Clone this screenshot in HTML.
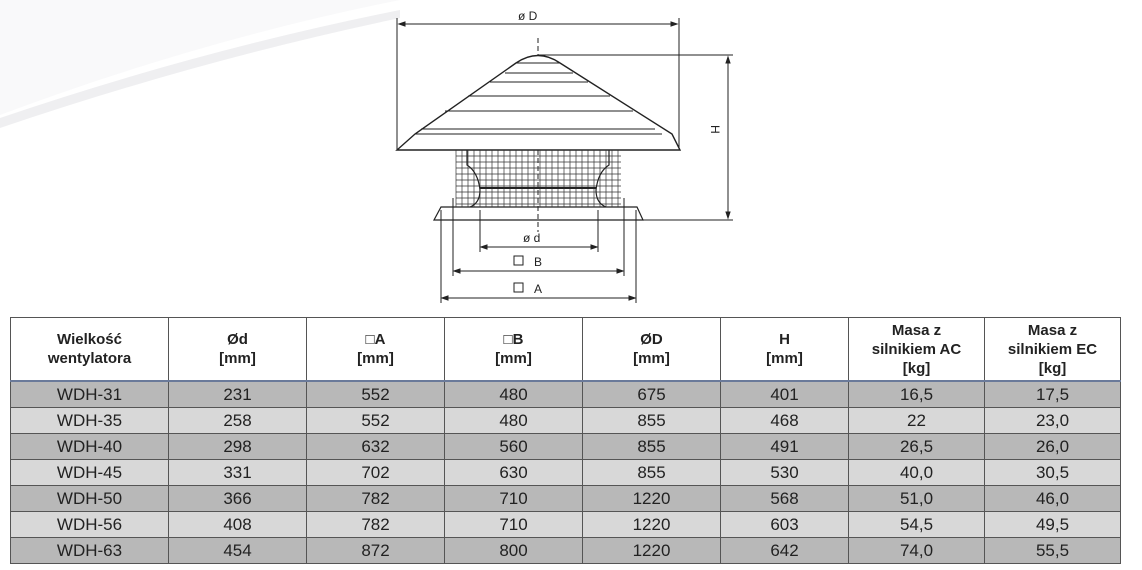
<!DOCTYPE html>
<html><head><meta charset="utf-8"><style>
body{margin:0;width:1142px;height:570px;background:#fff;position:relative;overflow:hidden;font-family:"Liberation Sans",sans-serif}
svg{position:absolute;left:0;top:0}
table{position:absolute;left:10px;top:317px;border-collapse:collapse;font-family:"Liberation Sans",sans-serif;color:#222}
td{border:1px solid #555;text-align:center;padding:0;font-size:17px}
tr.h td{height:62px;font-weight:bold;font-size:15px;line-height:19px;background:#fff}
tr.h{border-bottom:2px solid #6a7a9a}
tr.d td{height:25px;background:#b8b8b8}
tr.l td{height:25px;background:#d8d8d8}
</style></head><body>
<svg width="1142" height="316" viewBox="0 0 1142 316">
<path d="M0 0 H400 Q200 40 0 115Z" fill="#f9f9fa"/>
<path d="M0 118 Q200 50 400 10 L400 18 Q200 60 0 128Z" fill="#efeff1"/>
<g stroke="#222" fill="none" stroke-width="1">
<line x1="397" y1="18" x2="397" y2="150"/><line x1="679" y1="18" x2="679" y2="150"/>
<line x1="399" y1="24" x2="677" y2="24"/>
<path d="M399 24l6-2v4z M677 24l-6-2v4z" fill="#222"/>
<line x1="538" y1="55" x2="733" y2="55"/><line x1="600" y1="220" x2="733" y2="220"/>
<line x1="728" y1="57" x2="728" y2="218"/>
<path d="M728 57l-2 6h4z M728 218l-2-6h4z" fill="#222"/>
<line x1="538" y1="38" x2="538" y2="232" stroke-dasharray="5,3"/>
<path d="M516 63 Q538 48 560 63 L672 134 L680 150 H397 L415 134 Z" fill="#fff" stroke-width="1.4"/>
<line x1="516" y1="63" x2="560" y2="63"/><line x1="505" y1="73" x2="573" y2="73"/>
<line x1="490" y1="82" x2="588" y2="82"/><line x1="468" y1="96" x2="610" y2="96"/>
<line x1="445" y1="111" x2="633" y2="111"/><line x1="421" y1="129" x2="655" y2="129"/>
<line x1="415" y1="134" x2="662" y2="134"/>
<path d="M441 207 H637 L643 220 H434Z" stroke-width="1.2"/>
</g>
<g stroke="#333" stroke-width="0.7">
<line x1="456" y1="150" x2="456" y2="207"/><line x1="462" y1="150" x2="462" y2="207"/><line x1="468" y1="150" x2="468" y2="207"/><line x1="474" y1="150" x2="474" y2="207"/><line x1="480" y1="150" x2="480" y2="207"/><line x1="486" y1="150" x2="486" y2="207"/><line x1="492" y1="150" x2="492" y2="207"/><line x1="498" y1="150" x2="498" y2="207"/><line x1="504" y1="150" x2="504" y2="207"/><line x1="510" y1="150" x2="510" y2="207"/><line x1="516" y1="150" x2="516" y2="207"/><line x1="522" y1="150" x2="522" y2="207"/><line x1="528" y1="150" x2="528" y2="207"/><line x1="534" y1="150" x2="534" y2="207"/><line x1="540" y1="150" x2="540" y2="207"/><line x1="546" y1="150" x2="546" y2="207"/><line x1="552" y1="150" x2="552" y2="207"/><line x1="558" y1="150" x2="558" y2="207"/><line x1="564" y1="150" x2="564" y2="207"/><line x1="570" y1="150" x2="570" y2="207"/><line x1="576" y1="150" x2="576" y2="207"/><line x1="582" y1="150" x2="582" y2="207"/><line x1="588" y1="150" x2="588" y2="207"/><line x1="594" y1="150" x2="594" y2="207"/><line x1="600" y1="150" x2="600" y2="207"/><line x1="606" y1="150" x2="606" y2="207"/><line x1="612" y1="150" x2="612" y2="207"/><line x1="618" y1="150" x2="618" y2="207"/>
<line x1="456" y1="156" x2="621" y2="156"/><line x1="456" y1="162" x2="621" y2="162"/><line x1="456" y1="168" x2="621" y2="168"/><line x1="456" y1="174" x2="621" y2="174"/><line x1="456" y1="180" x2="621" y2="180"/><line x1="456" y1="186" x2="621" y2="186"/><line x1="456" y1="192" x2="621" y2="192"/><line x1="456" y1="198" x2="621" y2="198"/><line x1="456" y1="204" x2="621" y2="204"/>
</g>
<g stroke="#222" fill="none" stroke-width="1.2">
<path d="M467 150 V165 Q478 172 480 190 Q480 203 470 207"/><path d="M609 150 V165 Q598 172 596 190 Q596 203 606 207"/>
<line x1="480" y1="188" x2="596" y2="188" stroke-width="2"/>
</g>
<g stroke="#222" stroke-width="1" fill="none">
<line x1="480" y1="210" x2="480" y2="252"/><line x1="598" y1="210" x2="598" y2="252"/>
<line x1="453" y1="198" x2="453" y2="276"/><line x1="624" y1="198" x2="624" y2="276"/>
<line x1="441" y1="210" x2="441" y2="303"/><line x1="636" y1="210" x2="636" y2="303"/>
<line x1="481" y1="247" x2="597" y2="247"/><line x1="454" y1="271" x2="623" y2="271"/><line x1="442" y1="298" x2="635" y2="298"/>
<path d="M481 247l6-2v4zM597 247l-6-2v4zM454 271l6-2v4zM623 271l-6-2v4zM442 298l6-2v4zM635 298l-6-2v4z" fill="#222"/>
<rect x="514" y="256" width="9" height="9"/><rect x="514" y="283" width="9" height="9"/>
</g>
<g font-family="Liberation Sans,sans-serif" font-size="12" fill="#222">
<text x="518" y="20">ø D</text><text x="523" y="242">ø d</text>
<text x="534" y="266">B</text><text x="534" y="293">A</text>
<text x="711" y="133" transform="rotate(90 715 129)">H</text>
</g>
</svg>
<table>
<colgroup><col style="width:158px"><col style="width:138px"><col style="width:138px"><col style="width:138px"><col style="width:138px"><col style="width:128px"><col style="width:136px"><col style="width:136px"></colgroup>
<tr class="h"><td>Wielkość<br>wentylatora</td><td>Ød<br>[mm]</td><td>□A<br>[mm]</td><td>□B<br>[mm]</td><td>ØD<br>[mm]</td><td>H<br>[mm]</td><td>Masa z<br>silnikiem AC<br>[kg]</td><td>Masa z<br>silnikiem EC<br>[kg]</td></tr>
<tr class="d"><td>WDH-31</td><td>231</td><td>552</td><td>480</td><td>675</td><td>401</td><td>16,5</td><td>17,5</td></tr>
<tr class="l"><td>WDH-35</td><td>258</td><td>552</td><td>480</td><td>855</td><td>468</td><td>22</td><td>23,0</td></tr>
<tr class="d"><td>WDH-40</td><td>298</td><td>632</td><td>560</td><td>855</td><td>491</td><td>26,5</td><td>26,0</td></tr>
<tr class="l"><td>WDH-45</td><td>331</td><td>702</td><td>630</td><td>855</td><td>530</td><td>40,0</td><td>30,5</td></tr>
<tr class="d"><td>WDH-50</td><td>366</td><td>782</td><td>710</td><td>1220</td><td>568</td><td>51,0</td><td>46,0</td></tr>
<tr class="l"><td>WDH-56</td><td>408</td><td>782</td><td>710</td><td>1220</td><td>603</td><td>54,5</td><td>49,5</td></tr>
<tr class="d"><td>WDH-63</td><td>454</td><td>872</td><td>800</td><td>1220</td><td>642</td><td>74,0</td><td>55,5</td></tr>
</table>
</body></html>
